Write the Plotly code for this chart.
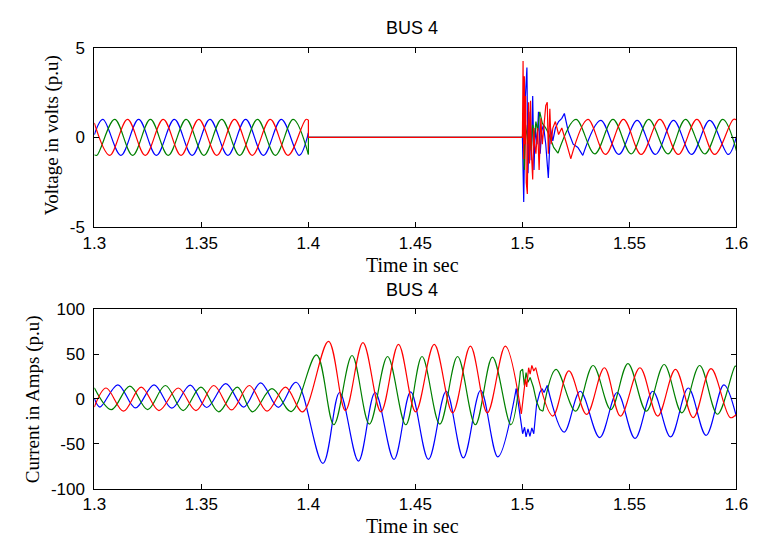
import plotly.graph_objects as go

# ---------------- colours ----------------
BLUE = "#0000ff"
GREEN = "#008000"
RED = "#ff0000"

X_TICKS = [1.3, 1.35, 1.4, 1.45, 1.5, 1.55, 1.6]
X_TICKTEXT = ["1.3", "1.35", "1.4", "1.45", "1.5", "1.55", "1.6"]
V_TICKS = [-5, 0, 5]
V_TICKTEXT = ["-5", "0", "5"]
I_TICKS = [-100, -50, 0, 50, 100]
I_TICKTEXT = ["-100", "-50", "0", "50", "100"]

# ================= VOLTAGE (BUS 4) =================
# pre-fault sinusoids (extrema)
vb_pre_t = [1.3000, 1.3040, 1.3124, 1.3207, 1.3290, 1.3374, 1.3457, 1.3540, 1.3624, 1.3707, 1.3790, 1.3874, 1.3957, 1.4000]
vb_pre_v = [0.15, 1.0, -1.0, 1.0, -1.0, 1.0, -1.0, 1.0, -1.0, 1.0, -1.0, 1.0, -1.0, 0.25]
vg_pre_t = [1.3000, 1.3012, 1.3095, 1.3179, 1.3262, 1.3345, 1.3429, 1.3512, 1.3595, 1.3679, 1.3762, 1.3846, 1.3929, 1.4000]
vg_pre_v = [-0.97, -1.0, 1.0, -1.0, 1.0, -1.0, 1.0, -1.0, 1.0, -1.0, 1.0, -1.0, 1.0, -0.95]
vr_pre_t = [1.3000, 1.3072, 1.3155, 1.3238, 1.3322, 1.3405, 1.3488, 1.3572, 1.3655, 1.3738, 1.3822, 1.3905, 1.3988, 1.4000]
vr_pre_v = [0.8, -1.0, 1.0, -1.0, 1.0, -1.0, 1.0, -1.0, 1.0, -1.0, 1.0, -1.0, 1.0, 0.97]

# outage interval (all phases at zero)
v_off_t = [1.4, 1.4, 1.5]
vb_off_v = [0.25, 0.0, 0.0]
vg_off_v = [-0.95, 0.0, 0.0]
vr_off_v = [0.97, 0.0, 0.0]

# reclosing transient
vb_tr_t = [1.5000, 1.5004, 1.5006, 1.5010, 1.5014, 1.5021, 1.5026, 1.5030, 1.5036, 1.5041, 1.5048, 1.5054, 1.5060,
           1.5068, 1.5075, 1.5083, 1.5090, 1.5098, 1.5109, 1.5121, 1.5131, 1.5142, 1.5154, 1.5169, 1.5184, 1.5196,
           1.5214, 1.5237, 1.5259, 1.5282]
vb_tr_v = [0.0, -2.8, -3.6, -0.5, 2.31, 3.89, -1.99, -0.38, 1.42, -1.27, 2.31, -1.81, 0.52,
           -0.38, 1.42, -0.91, 0.34, 0.70, -0.38, -2.26, 0.52, -0.2, 0.52, 0.88, 1.06, 1.33,
           0.34, -0.38, -0.56, -1.0]
vg_tr_t = [1.5000, 1.5003, 1.5009, 1.5015, 1.5026, 1.5033, 1.5041, 1.5048, 1.5056, 1.5063, 1.5071, 1.5081, 1.5093,
           1.5109, 1.5124, 1.5146, 1.5166]
vg_tr_v = [0.0, 0.88, -1.81, 0.70, -0.38, 0.34, -0.73, 0.70, 0.0, 0.88, 0.34, 1.42, 0.79,
           0.52, 0.16, -0.56, -0.88]
vr_tr_t = [1.5000, 1.5003, 1.5006, 1.5009, 1.5012, 1.5015, 1.5018, 1.5023, 1.5026, 1.5029, 1.5033, 1.5038, 1.5041,
           1.5044, 1.5048, 1.5053, 1.5057, 1.5063, 1.5071, 1.5078, 1.5086, 1.5093, 1.5101, 1.5109, 1.5116, 1.5121,
           1.5128, 1.5134, 1.5142, 1.5154, 1.5169, 1.5184, 1.5207, 1.5226]
vr_tr_v = [0.0, 4.25, -1.2, 3.4, -0.38, 2.31, -2.53, -3.15, 0.4, 1.95, -1.45, 2.04, -0.6,
           -1.99, -2.35, 0.52, -0.38, -0.91, 0.52, -1.81, 1.06, -0.38, 0.52, 1.77, 1.95, -0.91,
           1.6, -0.38, 0.52, 0.88, 0.16, 0.52, -0.38, -1.18]

# post-fault sinusoids
vb_post_t = [1.5282, 1.5366, 1.5450, 1.5536, 1.5621, 1.5706, 1.5790, 1.5875, 1.5962, 1.6000]
vb_post_v = [-1.0, 0.95, -0.95, 0.95, -0.95, 0.95, -0.95, 0.95, -0.95, 0.05]
vg_post_t = [1.5166, 1.5250, 1.5338, 1.5423, 1.5508, 1.5590, 1.5680, 1.5762, 1.5852, 1.5936, 1.6000]
vg_post_v = [-0.88, 1.0, -0.92, 1.0, -0.92, 1.0, -0.92, 1.0, -0.92, 1.0, -0.75]
vr_post_t = [1.5226, 1.5306, 1.5388, 1.5472, 1.5555, 1.5642, 1.5728, 1.5815, 1.5898, 1.5985, 1.6000]
vr_post_v = [-1.18, 1.0, -0.95, 1.0, -0.95, 1.0, -0.95, 1.0, -0.95, 1.0, 0.97]

# ================= CURRENT (BUS 4) =================
ib_pre_t = [1.3000, 1.3026, 1.3110, 1.3192, 1.3279, 1.3362, 1.3448, 1.3525, 1.3614, 1.3698, 1.3777, 1.3860, 1.3943,
            1.4068, 1.4146, 1.4234, 1.4312, 1.4400, 1.4478, 1.4561, 1.4644, 1.4724, 1.4805, 1.4885, 1.4971]
ib_pre_v = [0.5, -9.0, 15.8, -10.0, 15.8, -10.2, 15.5, -9.5, 17.0, -9.0, 18.0, -9.3, 18.6,
            -71.7, 7.2, -69.2, 7.2, -67.4, 7.9, -67.4, 8.6, -65.6, 9.7, -64.5, 11.5]
ig_pre_t = [1.3000, 1.3080, 1.3166, 1.3249, 1.3332, 1.3415, 1.3498, 1.3581, 1.3668, 1.3739, 1.3830, 1.3920,
            1.4038, 1.4119, 1.4204, 1.4285, 1.4370, 1.4455, 1.4531, 1.4614, 1.4697, 1.4780, 1.4860, 1.4946, 1.4991]
ig_pre_v = [12.5, -11.8, 14.3, -11.8, 15.0, -12.9, 13.3, -14.3, 13.3, -14.3, 11.5, -14.0,
            49.1, -28.7, 48.4, -28.0, 47.3, -28.7, 47.3, -28.0, 47.3, -28.7, 46.6, -28.7, 31.2]
ir_pre_t = [1.3000, 1.3055, 1.3136, 1.3219, 1.3302, 1.3392, 1.3475, 1.3558, 1.3641, 1.3724, 1.3807, 1.3893, 1.3973,
            1.4094, 1.4173, 1.4255, 1.4339, 1.4421, 1.4501, 1.4588, 1.4674, 1.4757, 1.4836, 1.4920, 1.4995]
ir_pre_v = [-9.0, 12.2, -13.6, 13.3, -12.9, 12.2, -12.9, 15.0, -12.2, 15.0, -13.6, 13.3, -14.3,
            64.2, -12.9, 62.7, -14.3, 60.9, -14.3, 60.9, -15.4, 58.8, -15.4, 58.8, -16.5]

ib_tr_t = [1.4971, 1.5001, 1.5010, 1.5017, 1.5026, 1.5035, 1.5044, 1.5053, 1.5066, 1.5081, 1.5092, 1.5101, 1.5116]
ib_tr_v = [11.5, -38.7, -31.5, -42.3, -33.3, -41.6, -32.3, -38.7, -6.5, 7.2, 11.5, 7.2, 15.0]
ig_tr_t = [1.4991, 1.5001, 1.5009, 1.5017, 1.5026, 1.5036, 1.5051, 1.5066, 1.5081, 1.5096]
ig_tr_v = [31.2, 33.0, 15.0, 29.4, 18.6, 24.0, 13.3, -2.9, -11.8, -13.6]
ir_tr_t = [1.4995, 1.5006, 1.5014, 1.5020, 1.5029, 1.5036, 1.5044, 1.5053, 1.5062]
ir_tr_v = [-16.5, 7.9, 22.2, 13.3, 34.8, 27.6, 37.3, 31.2, 34.8]

ib_post_t = [1.5116, 1.5195, 1.5270, 1.5361, 1.5443, 1.5526, 1.5609, 1.5692, 1.5775, 1.5858, 1.5941, 1.6000]
ib_post_v = [15.0, -36.9, 8.6, -43.0, 7.2, -44.0, 8.6, -42.3, 12.2, -40.5, 15.8, -20.0]
ig_post_t = [1.5096, 1.5157, 1.5248, 1.5330, 1.5413, 1.5493, 1.5579, 1.5662, 1.5745, 1.5828, 1.5911, 1.5994, 1.6000]
ig_post_v = [-13.6, 33.0, -13.6, 37.3, -11.8, 39.4, -13.6, 38.4, -15.4, 37.3, -17.0, 36.6, 36.0]
ir_post_t = [1.5062, 1.5142, 1.5217, 1.5300, 1.5383, 1.5458, 1.5549, 1.5632, 1.5715, 1.5798, 1.5881, 1.5971, 1.6000]
ir_post_v = [34.8, -19.0, 31.2, -17.2, 34.8, -19.0, 34.8, -19.0, 33.0, -20.8, 33.7, -20.8, -17.0]

# ---------------- figure ----------------
fig = go.Figure()


def add(t, v, color, ax, shape):
    fig.add_trace(go.Scatter(
        x=t, y=v, mode="lines", xaxis="x" if ax == 1 else "x2", yaxis="y" if ax == 1 else "y2",
        line=dict(color=color, width=1.2, shape=shape, smoothing=1.0 if shape == "spline" else None),
        hoverinfo="skip", showlegend=False))


# voltage: blue, green, red (red drawn on top)
for pre_t, pre_v, off_v, tr_t, tr_v, post_t, post_v, col in [
        (vb_pre_t, vb_pre_v, vb_off_v, vb_tr_t, vb_tr_v, vb_post_t, vb_post_v, BLUE),
        (vg_pre_t, vg_pre_v, vg_off_v, vg_tr_t, vg_tr_v, vg_post_t, vg_post_v, GREEN),
        (vr_pre_t, vr_pre_v, vr_off_v, vr_tr_t, vr_tr_v, vr_post_t, vr_post_v, RED)]:
    add(pre_t, pre_v, col, 1, "spline")
    add(v_off_t, off_v, col, 1, "linear")
    add(tr_t, tr_v, col, 1, "linear")
    add(post_t, post_v, col, 1, "spline")

# current
for pre_t, pre_v, tr_t, tr_v, post_t, post_v, col in [
        (ib_pre_t, ib_pre_v, ib_tr_t, ib_tr_v, ib_post_t, ib_post_v, BLUE),
        (ig_pre_t, ig_pre_v, ig_tr_t, ig_tr_v, ig_post_t, ig_post_v, GREEN),
        (ir_pre_t, ir_pre_v, ir_tr_t, ir_tr_v, ir_post_t, ir_post_v, RED)]:
    add(pre_t, pre_v, col, 2, "spline")
    add(tr_t, tr_v, col, 2, "linear")
    add(post_t, post_v, col, 2, "spline")

W, H = 763, 547
XDOM = [85 / W, 748 / W]
TICKFONT = dict(family="Arial, Liberation Sans, sans-serif", size=17, color="black")

axis_common = dict(showline=True, linecolor="black", linewidth=1, mirror="ticks",
                   ticks="inside", ticklen=5, tickwidth=1, tickcolor="black",
                   showgrid=False, zeroline=False, tickfont=TICKFONT)

fig.update_layout(
    width=W, height=H, margin=dict(l=0, r=0, t=0, b=0),
    paper_bgcolor="white", plot_bgcolor="rgba(0,0,0,0)",
    xaxis=dict(domain=XDOM, anchor="y", range=[1.3, 1.6], tickvals=X_TICKS, ticktext=X_TICKTEXT,
               ticklabelstandoff=0, **axis_common),
    yaxis=dict(domain=[1 - 226 / H, 1 - 40 / H], anchor="x", range=[-5, 5], tickvals=V_TICKS,
               ticktext=V_TICKTEXT, ticklabelstandoff=5, **axis_common),
    xaxis2=dict(domain=XDOM, anchor="y2", range=[1.3, 1.6], tickvals=X_TICKS, ticktext=X_TICKTEXT,
                ticklabelstandoff=0, **axis_common),
    yaxis2=dict(domain=[1 - 497 / H, 1 - 311 / H], anchor="x2", range=[-100, 100], tickvals=I_TICKS,
                ticktext=I_TICKTEXT, ticklabelstandoff=5, **axis_common),
)

TITLEFONT = dict(family="Arial, Liberation Sans, sans-serif", size=18, color="black")
SERIF = dict(family="Times New Roman, Liberation Serif, serif", size=20, color="black")
SERIF_Y = dict(family="Times New Roman, Liberation Serif, serif", size=19, color="black")

ann = [
    dict(text="BUS 4", x=413 / W, y=1 - 20 / H, font=TITLEFONT),
    dict(text="BUS 4", x=413 / W, y=1 - 291 / H, font=TITLEFONT),
    dict(text="Time in sec", x=413 / W, y=1 - 265 / H, font=SERIF),
    dict(text="Time in sec", x=413 / W, y=1 - 536 / H, font=SERIF),
    dict(text="Voltage in volts (p.u)", x=42 / W, y=1 - 131 / H, font=SERIF_Y, textangle=-90),
    dict(text="Current in Amps (p.u)", x=22 / W, y=1 - 404 / H, font=SERIF_Y, textangle=-90),
]
for a in ann:
    fig.add_annotation(xref="paper", yref="paper", xanchor="center", yanchor="middle",
                       showarrow=False, **a)

fig.write_html("out.html")
